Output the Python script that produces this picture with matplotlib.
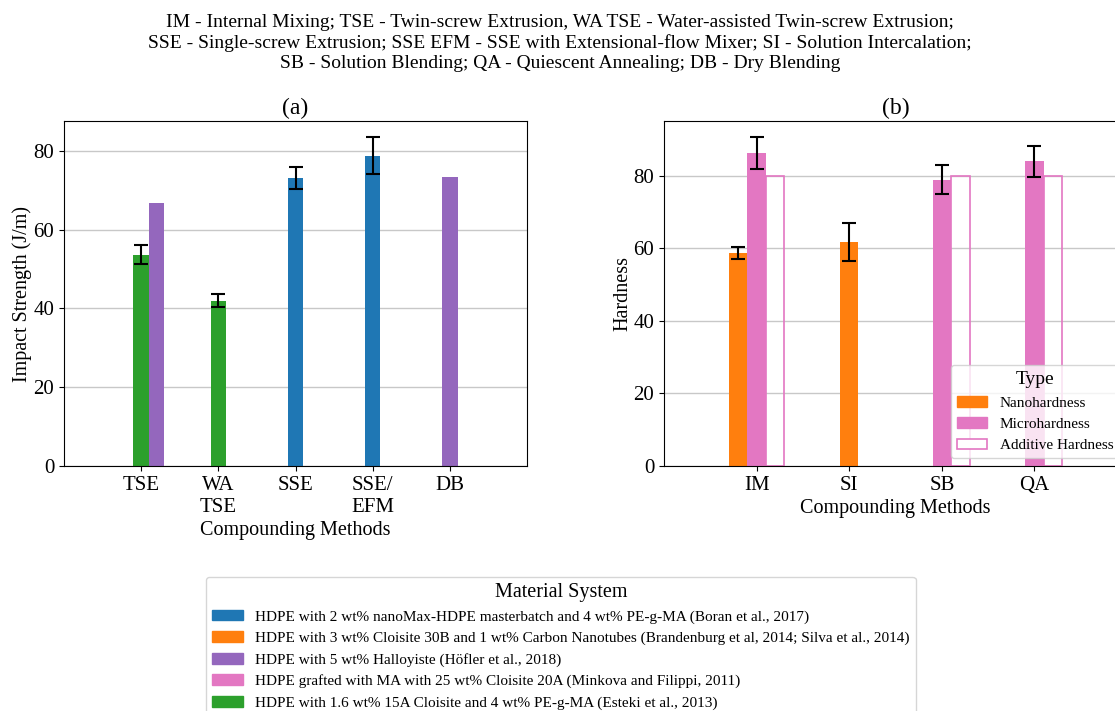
import numpy as np
import matplotlib.pyplot as plt
from matplotlib.patches import Patch
from matplotlib.ticker import MultipleLocator

plt.rcParams['font.family'] = ['Liberation Serif', 'DejaVu Serif']

# (a) impact strength, J/m
methods_a = ['TSE', 'WA\nTSE', 'SSE', 'SSE/\nEFM', 'DB']
esteki_impact = [53.6, 42.0, np.nan, np.nan, np.nan]
esteki_err = [2.4, 1.7, 0, 0, 0]
boran_impact = [np.nan, np.nan, 73.1, 78.7, np.nan]
boran_err = [0, 0, 2.9, 4.7, 0]
hofler_impact = [66.7, np.nan, np.nan, np.nan, 73.3]

# (b) hardness
methods_b = ['IM', 'SI', 'SB', 'QA']
nano_hard = [58.7, 61.6, np.nan, np.nan]
nano_err = [1.7, 5.2, 0, 0]
micro_hard = [86.1, np.nan, 78.9, 83.9]
micro_err = [4.4, 0, 4.0, 4.2]
additive_hard = [80, np.nan, 80, 80]

materials = [
    ('HDPE with 2 wt% nanoMax-HDPE masterbatch and 4 wt% PE-g-MA (Boran et al., 2017)', 'tab:blue'),
    ('HDPE with 3 wt% Cloisite 30B and 1 wt% Carbon Nanotubes (Brandenburg et al, 2014; Silva et al., 2014)', 'tab:orange'),
    ('HDPE with 5 wt% Halloyiste (Höfler et al., 2018)', 'tab:purple'),
    ('HDPE grafted with MA with 25 wt% Cloisite 20A (Minkova and Filippi, 2011)', 'tab:pink'),
    ('HDPE with 1.6 wt% 15A Cloisite and 4 wt% PE-g-MA (Esteki et al., 2013)', 'tab:green'),
]

W = 0.2


def draw_group(ax, series, n_cat):
    # place the bars that exist in each category side by side
    vals = [np.array(s['y'], dtype=float) for s in series]
    present = [[k for k in range(len(series)) if not np.isnan(vals[k][c])] for c in range(n_cat)]
    for k, s in enumerate(series):
        xs, ys, es = [], [], []
        for c in range(n_cat):
            if k not in present[c]:
                continue
            i = present[c].index(k)
            n = len(present[c])
            xs.append(c + (i - (n - 1) // 2) * W)
            ys.append(vals[k][c])
            es.append(s['err'][c] if s.get('err') else 0)
        kw = dict(width=W, zorder=2)
        if s.get('hollow'):
            kw.update(fill=False, edgecolor=s['color'], linewidth=1.2)
        else:
            kw.update(color=s['color'])
        ax.bar(xs, ys, **kw)
        if s.get('err'):
            ax.errorbar(xs, ys, yerr=es, fmt='none', ecolor='black',
                        capsize=5, elinewidth=1.5, capthick=1.5, zorder=3)
    ax.set_xlim(-1, n_cat)


fig = plt.figure(figsize=(11.15, 7.11), dpi=100)
ax1 = fig.add_axes([0.0574, 0.3446, 0.4153, 0.4852])
ax2 = fig.add_axes([0.5955, 0.3446, 0.4153, 0.4852])

draw_group(ax1, [
    dict(y=esteki_impact, err=esteki_err, color='tab:green'),
    dict(y=boran_impact, err=boran_err, color='tab:blue'),
    dict(y=hofler_impact, color='tab:purple'),
], len(methods_a))

draw_group(ax2, [
    dict(y=nano_hard, err=nano_err, color='tab:orange'),
    dict(y=micro_hard, err=micro_err, color='tab:pink'),
    dict(y=additive_hard, color='tab:pink', hollow=True),
], len(methods_b))

for ax, labels, title, ylabel in [(ax1, methods_a, '(a)', 'Impact Strength (J/m)'),
                                  (ax2, methods_b, '(b)', 'Hardness')]:
    ax.set_xticks(range(len(labels)))
    ax.set_xticklabels(labels)
    ax.yaxis.set_major_locator(MultipleLocator(20))
    ax.tick_params(labelsize=15)
    ax.set_title(title, fontsize=17, pad=5)
    ax.set_xlabel('Compounding Methods', fontsize=14.5, labelpad=3)
    ax.set_ylabel(ylabel, fontsize=14.5, labelpad=1)
    ax.yaxis.grid(True, color='#c8c8c8', linewidth=1)
    ax.set_axisbelow(True)

type_handles = [Patch(color='tab:orange'), Patch(color='tab:pink'),
                Patch(facecolor='white', edgecolor='tab:pink', linewidth=1.2)]
ax2.legend(type_handles, ['Nanohardness', 'Microhardness', 'Additive Hardness'],
           title='Type', loc='lower right', fontsize=11, title_fontsize=14)

fig.suptitle('IM - Internal Mixing; TSE - Twin-screw Extrusion, WA TSE - Water-assisted Twin-screw Extrusion;\n'
             'SSE - Single-screw Extrusion; SSE EFM - SSE with Extensional-flow Mixer; SI - Solution Intercalation;\n'
             'SB - Solution Blending; QA - Quiescent Annealing; DB - Dry Blending',
             x=0.502, y=0.981, fontsize=14, linespacing=1.25)

mat_handles = [Patch(color=c) for _, c in materials]
fig.legend(mat_handles, [m for m, _ in materials], title='Material System',
           loc='upper left', bbox_to_anchor=(0.1848, 0.1885), borderaxespad=0,
           fontsize=11, title_fontsize=14.5, labelspacing=0.5)

fig.savefig('out.png', dpi=100)
